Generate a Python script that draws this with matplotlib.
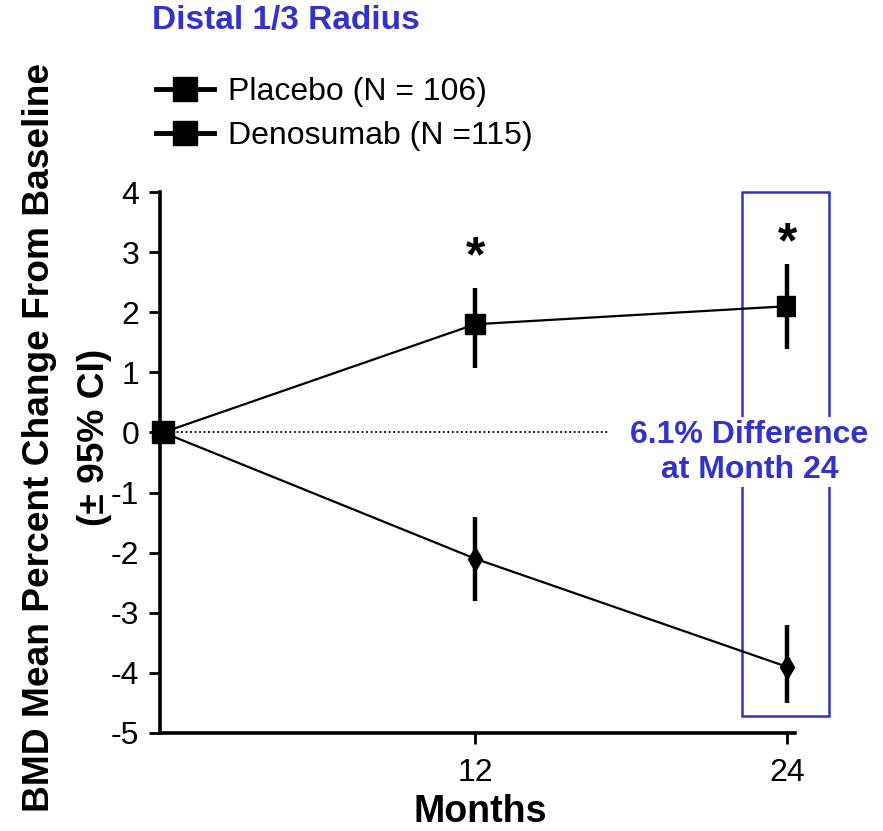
import matplotlib
matplotlib.use("Agg")
import matplotlib.pyplot as plt
from matplotlib.lines import Line2D
from matplotlib.patches import Rectangle

plt.rcParams['font.family'] = ['Liberation Sans', 'DejaVu Sans']

# Data
months = [0, 12, 24]
placebo_mean = [0.0, -2.1, -3.9]
placebo_lo = [0.0, -2.8, -4.5]
placebo_hi = [0.0, -1.4, -3.2]
deno_mean = [0.0, 1.8, 2.1]
deno_lo = [0.0, 1.07, 1.38]
deno_hi = [0.0, 2.4, 2.8]
legend_labels = ["Placebo (N = 106)", "Denosumab (N =115)"]
yticks = [4, 3, 2, 1, 0, -1, -2, -3, -4, -5]
xticks = [12, 24]
sig_months = [12, 24]
sig_heights = [2.9, 3.13]
diff_text = "6.1% Difference\nat Month 24"

BLUE = "#3333CC"

fig = plt.figure(figsize=(8.83, 8.31), dpi=100)
ax = fig.add_axes([160 / 883, 1 - 733 / 831, 635 / 883, 541 / 831])

# zero reference line
ax.plot([0, 17.1], [0, 0], color="black", lw=1.3, ls=(0, (1, 1.5)), zorder=1)

def draw_series(mean, lo, hi, marker, ms, mew=1.0):
    yerr = [[m - l for m, l in zip(mean, lo)], [h - m for m, h in zip(mean, hi)]]
    ax.errorbar(months[1:], mean[1:],
                yerr=[yerr[0][1:], yerr[1][1:]],
                fmt="none", ecolor="black", elinewidth=3.2, capsize=0, zorder=3)
    ax.plot(months, mean, color="black", lw=1.6, marker=marker, ms=ms,
            markevery=[1, 2], mfc="black", mec="black", mew=mew, zorder=4)

draw_series(placebo_mean, placebo_lo, placebo_hi, "d", 12.5)
draw_series(deno_mean, deno_lo, deno_hi, "s", 15)
ax.plot([months[0]], [deno_mean[0]], marker="s", ms=16, color="black",
        ls="none", zorder=5, clip_on=False)

for m, h in zip(sig_months, sig_heights):
    ax.text(m, h, "*", ha="center", va="center", fontsize=36,
            fontweight="bold", color="black")

# highlight box around month 24
ax.add_patch(Rectangle((22.25, -4.72), 3.35, 8.72, fill=False,
                       edgecolor=BLUE, lw=1.8, clip_on=False, zorder=2))
ax.text(22.55, -0.33, diff_text, ha="center", va="center", fontsize=23,
        fontweight="bold", color=BLUE, linespacing=1.2,
        bbox=dict(facecolor="white", edgecolor="none", pad=2), zorder=6)

ax.set_xlim(-0.12, 24.3)
ax.set_ylim(-5, 4)
ax.set_yticks(yticks)
ax.set_yticklabels([str(v) for v in yticks])
ax.set_xticks(xticks)
ax.set_xticklabels([str(v) for v in xticks])
ax.tick_params(axis="y", labelsize=23, width=2, length=8, pad=7)
ax.tick_params(axis="x", labelsize=23, width=2, length=8, pad=10)
for s in ("top", "right"):
    ax.spines[s].set_visible(False)
for s in ("left", "bottom"):
    ax.spines[s].set_linewidth(2.6)

fig.text(480 / 883, 1 - 812 / 831, "Months", ha="center", va="center",
         fontsize=27, fontweight="bold")
fig.text(40 / 883, 1 - 437 / 831, "BMD Mean Percent Change From Baseline",
         rotation=90, ha="center", va="center", fontsize=26.7, fontweight="bold")
fig.text(95 / 883, 1 - 437 / 831, "(± 95% CI)",
         rotation=90, ha="center", va="center", fontsize=26.7, fontweight="bold")
fig.text(152 / 883, 1 - 20 / 831, "Distal 1/3 Radius", ha="left", va="center",
         fontsize=24, fontweight="bold", color=BLUE)

handles = [Line2D([], [], color="black", lw=3.5, marker="s", ms=17)
           for _ in legend_labels]
fig.legend(handles, legend_labels, loc="upper left",
           bbox_to_anchor=(156 / 883, 1 - 77 / 831), frameon=False,
           fontsize=23, handlelength=1.8, handletextpad=0.45,
           labelspacing=0.45, borderaxespad=0, borderpad=0)

fig.savefig("out.png", dpi=100)
